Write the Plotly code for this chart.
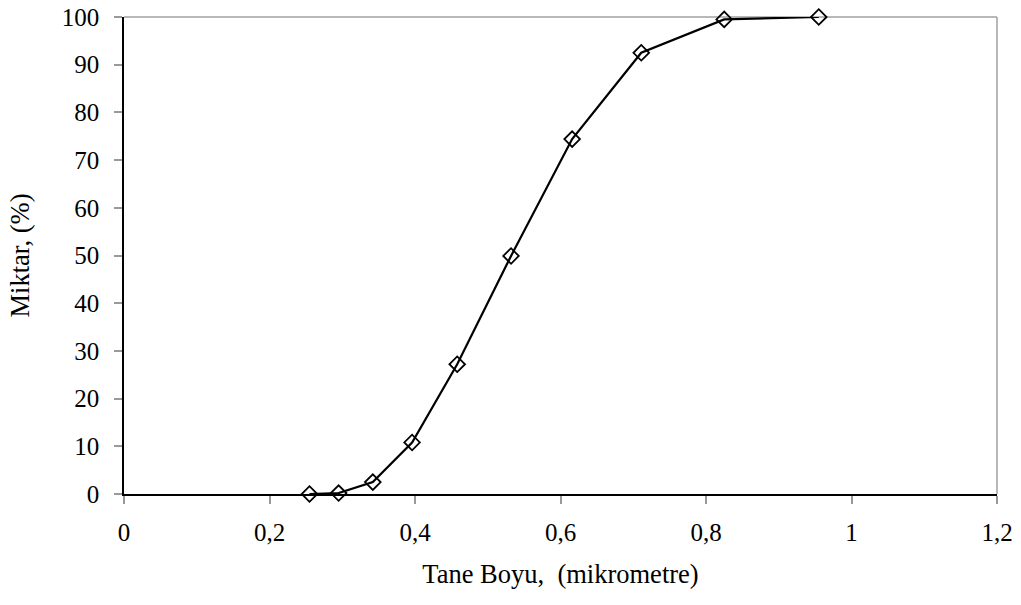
import plotly.graph_objects as go

size_um = [0.255, 0.295, 0.342, 0.396, 0.458, 0.532, 0.616, 0.711, 0.825, 0.955]
amount_pct = [0.0, 0.2, 2.5, 10.8, 27.2, 49.9, 74.4, 92.5, 99.5, 100.0]

x_title = "Tane Boyu,  (mikrometre)"
y_title = "Miktar, (%)"

FONT = "Liberation Serif"

fig = go.Figure()
fig.add_trace(go.Scatter(
    x=size_um, y=amount_pct, mode="lines+markers",
    line=dict(color="black", width=2.2),
    marker=dict(symbol="diamond-open", size=12, color="black", line=dict(width=1.8, color="black")),
    showlegend=False, cliponaxis=False,
))

fig.update_layout(
    width=1021, height=605,
    margin=dict(l=124, r=24, t=17, b=111),
    paper_bgcolor="white", plot_bgcolor="white",
    separators=", ",
    font=dict(family=FONT, size=25, color="black"),
    xaxis=dict(
        range=[0, 1.2], dtick=0.2, tick0=0, automargin=False,
        showgrid=False, zeroline=False,
        showline=True, linecolor="black", linewidth=1.5,
        ticks="outside", ticklen=8, tickcolor="#999999", tickwidth=1.5,
        ticklabelstandoff=7,
        tickfont=dict(family=FONT, size=25),
        title=dict(text=x_title, font=dict(family=FONT, size=26.5), standoff=20),
    ),
    yaxis=dict(
        range=[0, 100], dtick=10, tick0=0, automargin=False,
        showgrid=False, zeroline=False,
        showline=True, linecolor="black", linewidth=1.5,
        ticks="outside", ticklen=8, tickcolor="#999999", tickwidth=1.5,
        ticklabelstandoff=10,
        tickfont=dict(family=FONT, size=25),
        title=dict(text=y_title, font=dict(family=FONT, size=26.5), standoff=24),
    ),
    shapes=[
        dict(type="line", xref="paper", yref="paper", x0=0, x1=1, y0=1, y1=1,
             line=dict(color="#a0a0a0", width=1.5), layer="below"),
        dict(type="line", xref="paper", yref="paper", x0=1, x1=1, y0=0, y1=1,
             line=dict(color="#a0a0a0", width=1.5), layer="below"),
    ],
)

fig.write_html("out.html")
